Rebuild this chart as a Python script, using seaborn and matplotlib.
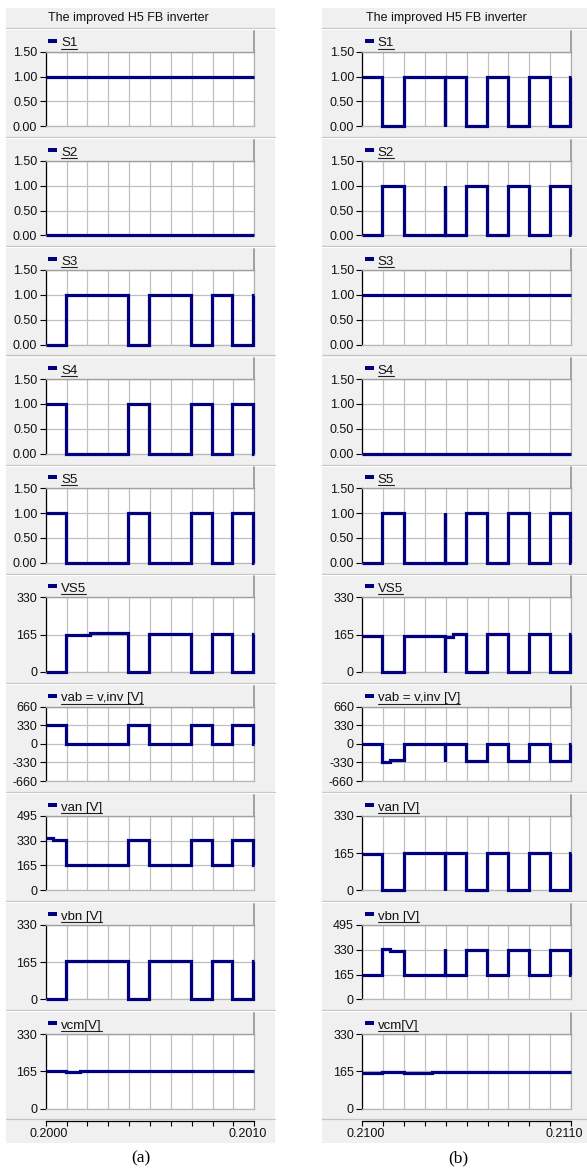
import numpy as np
import pandas as pd
import matplotlib
matplotlib.use("Agg")
import matplotlib.pyplot as plt
import seaborn as sns
from matplotlib.patches import Rectangle
from matplotlib.lines import Line2D
from matplotlib.transforms import ScaledTranslation

# ---------------- data ----------------
title = "The improved H5 FB inverter"
panel_labels = ["S1", "S2", "S3", "S4", "S5", "VS5", "vab = v,inv [V]",
                "van [V]", "vbn [V]", "vcm[V]"]
x_labels_a = ["0.2000", "0.2010"]
x_labels_b = ["0.2100", "0.2110"]

# (a) time window 0.2000 .. 0.2010 s
tA = [0.200000, 0.200095, 0.200393, 0.200495, 0.200696, 0.200796, 0.200895, 0.200995, 0.201000]
S1_a_t = [0.2000, 0.2010]; S1_a = [1, 1]
S2_a_t = [0.2000, 0.2010]; S2_a = [0, 0]
S3_a = [0, 1, 0, 1, 0, 1, 0, 1, 1]
S4_a = [1, 0, 1, 0, 1, 0, 1, 0, 0]
S5_a = [1, 0, 1, 0, 1, 0, 1, 0, 0]
VS5_a_t = [0.200000, 0.200095, 0.200210, 0.200393, 0.200495, 0.200696, 0.200796, 0.200895, 0.200995, 0.201000]
VS5_a = [0, 163, 172, 0, 170, 0, 170, 0, 170, 170]
vab_a = [330, 0, 330, 0, 330, 0, 330, 0, 0]
van_a_t = [0.200000, 0.200035, 0.200095, 0.200393, 0.200495, 0.200696, 0.200796, 0.200895, 0.200995, 0.201000]
van_a = [345, 337, 165, 333, 165, 333, 165, 333, 165, 165]
vbn_a = [0, 168, 0, 168, 0, 168, 0, 168, 168]
vcm_a_t = [0.200000, 0.200095, 0.200165, 0.201000]
vcm_a = [168, 162, 168, 168]

# (b) time window 0.2100 .. 0.2110 s
tB = [0.2100000, 0.2100960, 0.2102000, 0.2103955, 0.2103975, 0.2104950, 0.2105960,
      0.2107000, 0.2107990, 0.2109000, 0.2109950, 0.2110000]
S1_b = [1, 0, 1, 0, 1, 0, 1, 0, 1, 0, 1, 1]
S2_b = [0, 1, 0, 1, 0, 1, 0, 1, 0, 1, 0, 0]
S3_b_t = [0.2100, 0.2110]; S3_b = [1, 1]
S4_b_t = [0.2100, 0.2110]; S4_b = [0, 0]
S5_b = [0, 1, 0, 1, 0, 1, 0, 1, 0, 1, 0, 0]
VS5_b_t = [0.2100000, 0.2100960, 0.2102000, 0.2103955, 0.2103975, 0.2104360, 0.2104950,
           0.2105960, 0.2107000, 0.2107990, 0.2109000, 0.2109950, 0.2110000]
VS5_b = [160, 0, 160, 0, 157, 168, 0, 168, 0, 168, 0, 168, 168]
vab_b_t = [0.2100000, 0.2100960, 0.2101330, 0.2102000, 0.2103955, 0.2103975, 0.2104950,
           0.2105960, 0.2107000, 0.2107990, 0.2109000, 0.2109950, 0.2110000]
vab_b = [0, -325, -295, 0, -310, 0, -300, 0, -300, 0, -300, 0, 0]
van_b = [160, 0, 165, 0, 163, 0, 165, 0, 165, 0, 165, 165]
vbn_b = [160, 332, 320, 160, 335, 160, 330, 160, 330, 160, 330, 160, 160]
vcm_b_t = [0.2100, 0.210096, 0.210200, 0.210333, 0.2110]
vcm_b = [158, 163, 158, 163, 163]

ticks_S = [0, 0.5, 1.0, 1.5]
ticks_330 = [0, 165, 330]
ticks_495 = [0, 165, 330, 495]
ticks_660 = [-660, -330, 0, 330, 660]

series_a = [(S1_a_t, S1_a), (S2_a_t, S2_a), (tA, S3_a), (tA, S4_a), (tA, S5_a),
            (VS5_a_t, VS5_a), (tA, vab_a), (van_a_t, van_a), (tA, vbn_a), (vcm_a_t, vcm_a)]
series_b = [(tB, S1_b), (tB, S2_b), (S3_b_t, S3_b), (S4_b_t, S4_b), (tB, S5_b),
            (VS5_b_t, VS5_b), (vab_b_t, vab_b), (tB, van_b), (vab_b_t, vbn_b), (vcm_b_t, vcm_b)]
yticks_a = [ticks_S] * 5 + [ticks_330, ticks_660, ticks_495, ticks_330, ticks_330]
yticks_b = [ticks_S] * 5 + [ticks_330, ticks_660, ticks_330, ticks_495, ticks_330]

# ---------------- style / layout ----------------
sns.set_theme(style="white")
plt.rcParams["font.family"] = ["Liberation Sans", "DejaVu Sans"]

W, H = 587, 1168
fig = plt.figure(figsize=(W / 100, H / 100), dpi=100)
fig.patch.set_facecolor("white")

BG = "#f0f0f0"
NAVY = "#000080"
GRID = "#c0c0c0"
FS = 9


def fx(x):
    return x / W


def fy(y):
    return 1 - y / H


cols = [
    dict(bg=(6, 275), px=(45.7, 254.3), title_x=128, sub_x=141, t0=0.2000,
         series=series_a, yticks=yticks_a, xl=x_labels_a, sub="(a)"),
    dict(bg=(322, 587), px=(362.3, 571.0), title_x=446, sub_x=458, t0=0.2100,
         series=series_b, yticks=yticks_b, xl=x_labels_b, sub="(b)"),
]

panel_h = 74.5
legend_texts = []

for c in cols:
    bx0, bx1 = c["bg"]
    x0, x1 = c["px"]
    # grey background
    fig.add_artist(Rectangle((fx(bx0), fy(1143)), fx(bx1) - fx(bx0), fy(8) - fy(1143),
                             transform=fig.transFigure, facecolor=BG, edgecolor="none", zorder=-10))
    # title
    fig.text(fx(c["title_x"]), fy(18), title, ha="center", va="center", fontsize=FS, color="#111111")
    t0 = c["t0"]
    t1 = t0 + 0.001
    xt = np.linspace(t0, t1, 11)
    for k in range(10):
        top = 51.7 + 109.15 * k
        # separator line above panel
        ys = top - 23.8
        fig.add_artist(Line2D([fx(bx0), fx(bx1)], [fy(ys), fy(ys)], transform=fig.transFigure,
                              color="#c4c4c4", lw=0.9, zorder=-4))
        fig.add_artist(Line2D([fx(bx0), fx(bx1)], [fy(ys + 1.2), fy(ys + 1.2)], transform=fig.transFigure,
                              color="white", lw=0.8, zorder=-4))
        # header right border
        fig.add_artist(Line2D([fx(x1), fx(x1)], [fy(top - 21), fy(top)], transform=fig.transFigure,
                              color="#9a9a9a", lw=1.3, zorder=-3))
        # legend marker and label
        fig.add_artist(Rectangle((fx(x0 + 2.3), fy(top - 9)), fx(9), fy(0) - fy(4),
                                 transform=fig.transFigure, facecolor=NAVY, edgecolor="none", zorder=2))
        txt = fig.text(fx(x0 + 15.3), fy(top - 5.2), panel_labels[k], ha="left", va="baseline",
                       fontsize=9.5, color="#111111")
        legend_texts.append((txt, top))

        ax = fig.add_axes([fx(x0), fy(top + panel_h), fx(x1) - fx(x0), fy(top) - fy(top + panel_h)])
        ax.set_facecolor("white")
        t, y = c["series"][k]
        df = pd.DataFrame({"t": t, "v": y})
        sns.lineplot(data=df, x="t", y="v", ax=ax, drawstyle="steps-post", color=NAVY, lw=2.3,
                     estimator=None, sort=False, legend=False, clip_on=False,
                     solid_capstyle="butt", solid_joinstyle="miter", zorder=5)
        yt = c["yticks"][k]
        ax.set_xlim(t0, t1)
        ax.set_ylim(yt[0], yt[-1])
        ax.set_xticks(xt)
        ax.set_xticklabels([])
        ax.set_yticks(yt)
        if yt is ticks_S:
            ax.set_yticklabels(["%.2f" % v for v in yt])
        else:
            ax.set_yticklabels(["%d" % v for v in yt])
        ax.set_xlabel("")
        ax.set_ylabel("")
        ax.grid(True, color=GRID, lw=0.9)
        ax.set_axisbelow(True)
        ax.tick_params(axis="x", length=0)
        ax.tick_params(axis="y", direction="out", length=4, width=0.8, color="black",
                       pad=2, labelsize=FS, labelcolor="#111111", left=True)
        ax.spines["left"].set_color("black")
        ax.spines["left"].set_linewidth(0.9)
        ax.spines["right"].set_color("#b0b0b0")
        ax.spines["right"].set_linewidth(0.9)
        ax.spines["top"].set_color("#a0a0a0")
        ax.spines["top"].set_linewidth(1.0)
        ax.spines["bottom"].set_color("#b8b8b8")
        ax.spines["bottom"].set_linewidth(0.9)

    # bottom separator
    fig.add_artist(Line2D([fx(bx0), fx(bx1)], [fy(1119), fy(1119)], transform=fig.transFigure,
                          color="#c4c4c4", lw=0.9, zorder=-4))
    # time axis strip
    axx = fig.add_axes([fx(x0), fy(1120.5), fx(x1) - fx(x0), fy(1119.5) - fy(1120.5)])
    axx.set_facecolor("none")
    axx.set_xlim(t0, t1)
    axx.set_xticks(xt)
    axx.set_xticklabels([c["xl"][0]] + [""] * 9 + [c["xl"][1]])
    axx.set_yticks([])
    for s in ["left", "right", "top"]:
        axx.spines[s].set_visible(False)
    axx.spines["bottom"].set_color("black")
    axx.spines["bottom"].set_linewidth(0.9)
    axx.tick_params(axis="x", direction="out", length=3.8, width=0.8, color="black",
                    pad=1.5, labelsize=FS, labelcolor="#111111", bottom=True)
    labs = axx.get_xticklabels()
    labs[0].set_transform(labs[0].get_transform() + ScaledTranslation(3.0 / 100, 0, fig.dpi_scale_trans))
    labs[-1].set_transform(labs[-1].get_transform() + ScaledTranslation(-6.5 / 100, 0, fig.dpi_scale_trans))
    # sub caption
    fig.text(fx(c["sub_x"]), fy(1158), c["sub"], ha="center", va="center", fontsize=12.5,
             family=["Liberation Serif", "DejaVu Serif"], color="black")

# underlines for legend labels
fig.canvas.draw()
renderer = fig.canvas.get_renderer()
for txt, top in legend_texts:
    bb = txt.get_window_extent(renderer)
    yy = fy(top - 3.0)
    fig.add_artist(Line2D([bb.x0 / W, bb.x1 / W], [yy, yy], transform=fig.transFigure,
                          color="#222222", lw=0.8, zorder=3))

fig.savefig("out.png", dpi=100, facecolor="white")
